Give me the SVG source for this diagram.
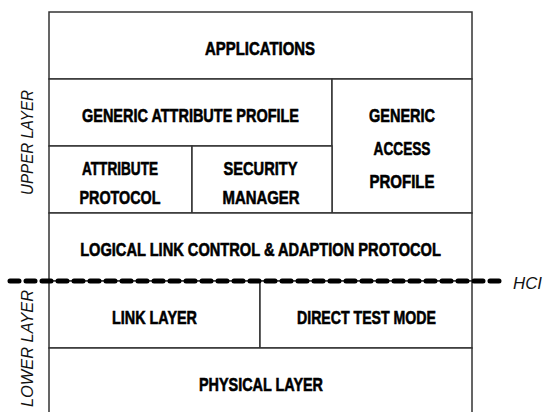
<svg xmlns="http://www.w3.org/2000/svg" width="544" height="412" viewBox="0 0 544 412">
<style>
.box{fill:#fff;stroke:#333;stroke-width:1.5}
.t{font-family:"Liberation Sans",Arial,sans-serif;font-weight:bold;font-size:19px;fill:#000;stroke:#000;stroke-width:0.6;text-anchor:middle}
.side{font-family:"Liberation Sans",Arial,sans-serif;font-style:italic;font-size:16.5px;fill:#111;text-anchor:middle}
.hci{fill:none;stroke:#000;stroke-width:5;stroke-linecap:round;stroke-dasharray:9 7}
</style>
<rect width="544" height="412" fill="#fff"/>
<g id="applications"><rect class="box" x="49" y="12" width="423" height="67"/><text class="t" x="260" y="55" textLength="110" lengthAdjust="spacingAndGlyphs">APPLICATIONS</text></g>
<g id="gatt"><rect class="box" x="49" y="79" width="283" height="67"/><text class="t" x="190.5" y="122" textLength="217" lengthAdjust="spacingAndGlyphs">GENERIC ATTRIBUTE PROFILE</text></g>
<g id="gap"><rect class="box" x="332" y="79" width="140" height="134"/><text class="t" x="402" y="122" textLength="66" lengthAdjust="spacingAndGlyphs">GENERIC</text><text class="t" x="402" y="155" textLength="57" lengthAdjust="spacingAndGlyphs">ACCESS</text><text class="t" x="402" y="188" textLength="65" lengthAdjust="spacingAndGlyphs">PROFILE</text></g>
<g id="att"><rect class="box" x="49" y="146" width="143" height="67"/><text class="t" x="120" y="175" textLength="76" lengthAdjust="spacingAndGlyphs">ATTRIBUTE</text><text class="t" x="120" y="204" textLength="81" lengthAdjust="spacingAndGlyphs">PROTOCOL</text></g>
<g id="sm"><rect class="box" x="192" y="146" width="140" height="67"/><text class="t" x="260.5" y="175" textLength="74" lengthAdjust="spacingAndGlyphs">SECURITY</text><text class="t" x="261" y="204" textLength="77" lengthAdjust="spacingAndGlyphs">MANAGER</text></g>
<g id="l2cap"><rect class="box" x="49" y="213" width="423" height="68"/><text class="t" x="0" y="0" transform="translate(260.5 256) scale(0.77 1)">LOGICAL LINK CONTROL &amp; ADAPTION PROTOCOL</text></g>
<g id="ll"><rect class="box" x="49" y="281" width="211" height="67"/><text class="t" x="154.5" y="324" textLength="85" lengthAdjust="spacingAndGlyphs">LINK LAYER</text></g>
<g id="dtm"><rect class="box" x="260" y="281" width="212" height="67"/><text class="t" x="366.5" y="324" textLength="139" lengthAdjust="spacingAndGlyphs">DIRECT TEST MODE</text></g>
<g id="phy"><rect class="box" x="49" y="348" width="423" height="80"/><text class="t" x="261" y="391" textLength="124" lengthAdjust="spacingAndGlyphs">PHYSICAL LAYER</text></g>
<g id="connectors"><line class="hci" x1="10" y1="281" x2="500" y2="281"/></g>
<g id="labels">
<text class="side" x="0" y="0" transform="translate(33 142.5) rotate(-90)" textLength="105" lengthAdjust="spacingAndGlyphs">UPPER LAYER</text>
<text class="side" x="0" y="0" transform="translate(33 348.5) rotate(-90)" textLength="117" lengthAdjust="spacingAndGlyphs">LOWER LAYER</text>
<text class="side" x="513" y="289" style="text-anchor:start;font-size:16px" textLength="29" lengthAdjust="spacingAndGlyphs">HCI</text>
</g>
</svg>
